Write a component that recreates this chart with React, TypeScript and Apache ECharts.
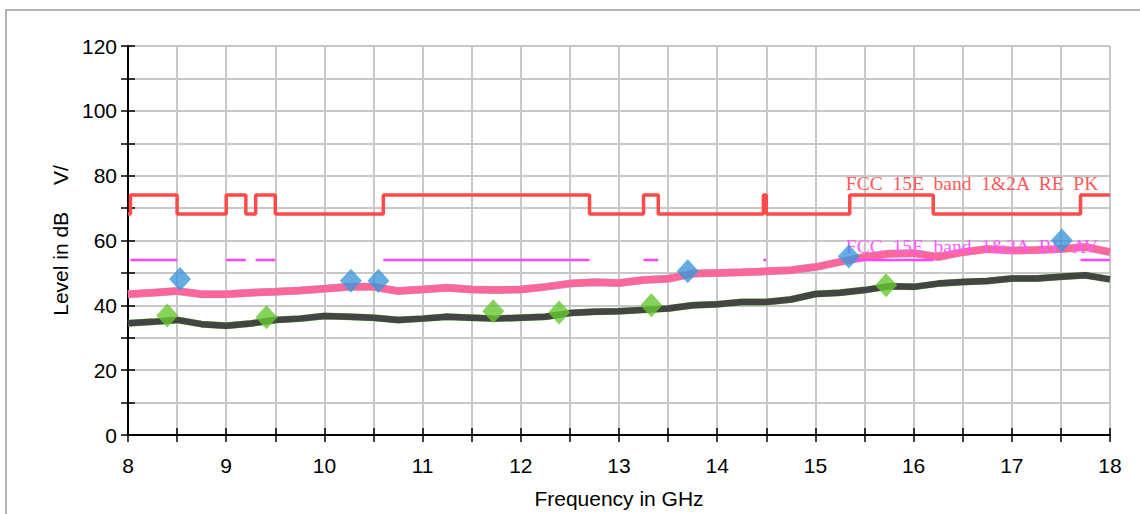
import React, { useEffect, useRef } from "react";
import * as echarts from "echarts";

// ---- data ----
const freqGHz = [
  8, 8.25, 8.5, 8.75, 9, 9.25, 9.5, 9.75, 10, 10.25, 10.5, 10.75, 11, 11.25, 11.5, 11.75,
  12, 12.25, 12.5, 12.75, 13, 13.25, 13.5, 13.75, 14, 14.25, 14.5, 14.75, 15, 15.25, 15.5,
  15.75, 16, 16.25, 16.5, 16.75, 17, 17.25, 17.5, 17.75, 18,
];
const peakLevel = [
  43.4, 43.9, 44.4, 43.4, 43.4, 43.9, 44.2, 44.6, 45.1, 45.7, 45.7, 44.4, 44.9, 45.4, 44.9,
  44.7, 44.9, 45.7, 46.7, 47.1, 46.9, 47.8, 48.2, 49.8, 50.0, 50.2, 50.5, 50.8, 51.8, 53.4,
  54.9, 55.9, 56.1, 54.9, 56.4, 57.4, 56.9, 57.1, 57.4, 58.0, 56.4,
];
const avgLevel = [
  34.5, 34.9, 35.5, 34.2, 33.7, 34.4, 35.5, 35.9, 36.7, 36.5, 36.2, 35.5, 35.9, 36.5, 36.2,
  35.9, 36.2, 36.5, 37.6, 38.0, 38.2, 38.6, 39.0, 40.0, 40.3, 41.0, 41.0, 41.8, 43.5, 43.9,
  44.7, 45.9, 45.7, 46.7, 47.2, 47.5, 48.3, 48.3, 48.8, 49.3, 48.0,
];
const peakFinalFreq = [8.53, 10.27, 10.55, 13.7, 15.34, 17.51];
const peakFinalLevel = [48.1, 47.6, 47.6, 50.5, 55.1, 60.0];
const avgFinalFreq = [8.4, 9.41, 11.72, 12.39, 13.33, 15.72];
const avgFinalLevel = [36.9, 36.3, 38.2, 37.8, 40.0, 46.2];

const restrictedBandStart = [8.025, 9.0, 9.3, 10.6, 13.25, 14.47, 15.35, 17.7];
const restrictedBandEnd = [8.5, 9.2, 9.5, 12.7, 13.4, 14.5, 16.2, 18];
const pkLimitRestricted = 74;
const pkLimitOther = 68.2;
const avLimit = 54;

const pkLimitName = "FCC  15E  band  1&2A  RE  PK";
const avLimitName = "FCC  15E  band  1&2A  RE  AV";
const pkLabelAt = [15.31, 77.5];
const avLabelAt = [15.31, 58.0];

const xMin = 8;
const xMax = 18;
const xStep = 0.5;
const yMin = 0;
const yMax = 120;
const yStep = 10;
const xName = "Frequency in GHz";
const yName = "Level in dB\u2003 V/";

export default function App() {
  const ref = useRef<HTMLDivElement>(null);

  useEffect(() => {
    if (!ref.current) return;
    const chart = echarts.init(ref.current, undefined, { renderer: "svg" });

    const pkLimit: any[] = [[xMin, pkLimitOther]];
    restrictedBandStart.forEach((a, i) => {
      const b = restrictedBandEnd[i];
      pkLimit.push([a, pkLimitOther], [a, pkLimitRestricted], [b, pkLimitRestricted]);
      if (b < xMax) pkLimit.push([b, pkLimitOther]);
    });
    const avLim: any[] = [];
    restrictedBandStart.forEach((a, i) => {
      const b = restrictedBandEnd[i];
      avLim.push([a, avLimit], [b, avLimit], [b, "-"]);
    });

    const peak = freqGHz.map((f, i) => [f, peakLevel[i]]);
    const avg = freqGHz.map((f, i) => [f, avgLevel[i]]);
    const pkFinal = peakFinalFreq.map((f, i) => [f, peakFinalLevel[i]]);
    const avFinal = avgFinalFreq.map((f, i) => [f, avgFinalLevel[i]]);

    const font = "Liberation Sans, Arial, sans-serif";
    const serif = "Liberation Serif, Times New Roman, serif";

    const baseX = { type: "value", min: xMin, max: xMax, interval: xStep };
    const baseY = { type: "value", min: yMin, max: yMax, interval: yStep };

    chart.setOption({
      animation: false,
      backgroundColor: "#ffffff",
      grid: { left: 128, right: 30, top: 46, bottom: 77, containLabel: false },
      graphic: [
        {
          type: "rect",
          shape: { x: 6, y: 10, width: 1300, height: 700 },
          style: { fill: "none", stroke: "#b4b4b4", lineWidth: 2 },
          z: -10,
          silent: true,
        },
      ],
      xAxis: [
        {
          ...baseX,
          position: "bottom",
          name: xName,
          nameLocation: "middle",
          nameGap: 53,
          nameTextStyle: { color: "#000", fontSize: 21, fontFamily: font },
          axisLine: { show: true, onZero: false, lineStyle: { color: "#000", width: 2 } },
          axisTick: { show: true, inside: false, length: 7, lineStyle: { color: "#000", width: 1.5 } },
          axisLabel: {
            color: "#000",
            fontSize: 21,
            fontFamily: font,
            margin: 20,
            formatter: (v: number) => (Number.isInteger(v) ? String(v) : ""),
          },
          splitLine: { show: true, lineStyle: { color: "#c8c8c8", width: 2 } },
        },
        {
          ...baseX,
          position: "bottom",
          offset: 0,
          axisLine: { show: false, onZero: false },
          axisTick: { show: true, inside: true, length: 7, lineStyle: { color: "#000", width: 1.5 } },
          axisLabel: { show: false },
          splitLine: { show: false },
        },
      ],
      yAxis: [
        {
          ...baseY,
          position: "left",
          name: yName,
          nameLocation: "middle",
          nameRotate: 90,
          nameGap: 57,
          nameTextStyle: { color: "#000", fontSize: 21, fontFamily: font },
          axisLine: { show: true, onZero: false, lineStyle: { color: "#000", width: 2 } },
          axisTick: { show: true, inside: false, length: 7, lineStyle: { color: "#000", width: 1.5 } },
          axisLabel: {
            color: "#000",
            fontSize: 21,
            fontFamily: font,
            margin: 11,
            formatter: (v: number) => (v % 20 === 0 ? String(v) : ""),
          },
          splitLine: { show: true, lineStyle: { color: "#c8c8c8", width: 2 } },
        },
        {
          ...baseY,
          position: "left",
          offset: 0,
          axisLine: { show: false, onZero: false },
          axisTick: { show: true, inside: true, length: 7, lineStyle: { color: "#000", width: 1.5 } },
          axisLabel: { show: false },
          splitLine: { show: false },
        },
      ],
      series: [
        {
          name: "Peak raw",
          type: "line",
          data: peak,
          showSymbol: false,
          symbol: "none",
          lineStyle: { color: "#9ccff4", width: 8 },
          z: 2,
          silent: true,
        },
        {
          name: "Peak",
          type: "line",
          data: peak,
          showSymbol: false,
          symbol: "none",
          lineStyle: { color: "#ff6699", width: 7.5 },
          z: 3,
          silent: true,
        },
        {
          name: "Average raw",
          type: "line",
          data: avg,
          showSymbol: false,
          symbol: "none",
          lineStyle: { color: "#86dc44", width: 7 },
          z: 2,
          silent: true,
        },
        {
          name: "Average",
          type: "line",
          data: avg,
          showSymbol: false,
          symbol: "none",
          lineStyle: { color: "#444444", width: 6.5 },
          z: 3,
          silent: true,
        },
        {
          name: "PK limit",
          type: "line",
          data: pkLimit,
          showSymbol: false,
          symbol: "none",
          lineStyle: { color: "#ff4a4a", width: 3.5 },
          z: 4,
          silent: true,
          markPoint: {
            symbol: "circle",
            symbolSize: 0,
            silent: true,
            label: {
              show: true,
              position: "right",
              distance: 0,
              color: "#ff5a5a",
              fontSize: 19.5,
              fontFamily: serif,
              formatter: () => pkLimitName,
            },
            data: [{ coord: pkLabelAt }],
          },
        },
        {
          name: "AV limit",
          type: "line",
          data: avLim,
          connectNulls: false,
          showSymbol: false,
          symbol: "none",
          lineStyle: { color: "#ff44ff", width: 2.5 },
          z: 4,
          silent: true,
          markPoint: {
            symbol: "circle",
            symbolSize: 0,
            silent: true,
            label: {
              show: true,
              position: "right",
              distance: 0,
              color: "#ff5cff",
              fontSize: 19.5,
              fontFamily: serif,
              formatter: () => avLimitName,
            },
            data: [{ coord: avLabelAt }],
          },
        },
        {
          name: "PK final",
          type: "scatter",
          data: pkFinal,
          symbol: "diamond",
          symbolSize: [22, 24],
          itemStyle: { color: "#3d97d9" },
          z: 6,
          silent: true,
        },
        {
          name: "AV final",
          type: "scatter",
          data: avFinal,
          symbol: "diamond",
          symbolSize: [22, 24],
          itemStyle: { color: "#66c832" },
          z: 6,
          silent: true,
        },
      ],
    });

    return () => chart.dispose();
  }, []);

  return (
    <div
      ref={ref}
      style={{ position: "fixed", left: 0, top: 0, width: 1140, height: 514, background: "#fff" }}
    />
  );
}
